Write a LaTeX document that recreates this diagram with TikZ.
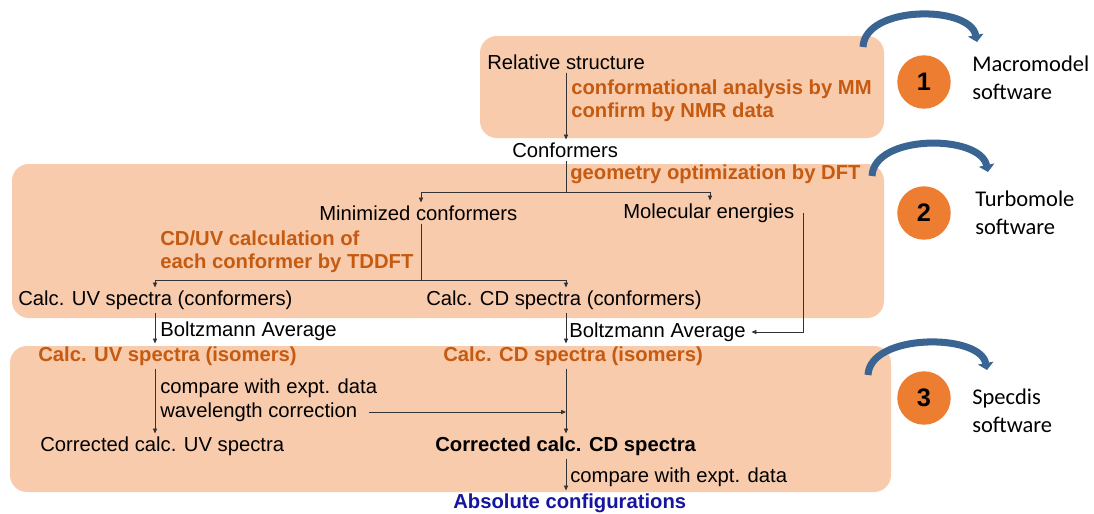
\documentclass[tikz,border=0pt]{standalone}
\usepackage{fontspec}
\setmainfont{Liberation Sans}
\newfontfamily\swfont{Carlito}
\usetikzlibrary{arrows.meta,calc}
\definecolor{boxfill}{HTML}{F8CBAD}
\definecolor{steptext}{HTML}{C55A11}
\definecolor{numfill}{HTML}{ED7D31}
\definecolor{arcblue}{HTML}{3A6593}
\definecolor{resultblue}{HTML}{1515A0}
\tikzset{
  stage/.style={fill=boxfill, draw=none, rounded corners=12pt},
  lbl/.style={anchor=west, inner xsep=0pt, inner ysep=2pt},
  method/.style={lbl, text=steptext, align=left, font=\fontsize{14.4}{16.4}\selectfont\bfseries},
  link/.style={draw=black!80, line width=0.6pt, -{Triangle[length=3.5pt,width=3pt]}},
  wire/.style={draw=black!80, line width=0.6pt},
  stepnum/.style={circle, fill=numfill, minimum size=38pt, inner sep=0pt, font=\fontsize{18}{18}\selectfont\bfseries},
  software/.style={anchor=west, align=left, inner sep=0pt, font=\swfont\fontsize{16}{20}\selectfont},
  hop/.style={draw=arcblue, line width=5pt, -{Triangle[length=5pt,width=11pt]}}
}
\begin{document}
\begin{tikzpicture}[x=0.025cm, y=-0.025cm, font=\fontsize{14.4}{17}\selectfont]
\useasboundingbox (0,0) rectangle (1094,514);
% stage boxes
\fill[stage] (480,36) rectangle (884,138);
\fill[stage] (12,164) rectangle (884,318);
\fill[stage] (10,346) rectangle (891,492);
% columns of the flow
\coordinate (uvx) at (155,0);
\coordinate (minx) at (421,0);
\coordinate (cdx) at (566,0);
\coordinate (enx) at (710,0);
\coordinate (boltzx) at (803,0);
\coordinate (dftfork) at (566,192);
\coordinate (tdfork) at (421,280);
% stage 1
\node[lbl] (rel) at (487,62) {Relative structure};
\node[method] (mm) at (571,101) {conformational analysis by MM\\confirm by NMR data};
\node[lbl] (conf) at (512,150) {Conformers};
% stage 2
\node[method] (dft) at (570,174) {geometry optimization by DFT};
\node[lbl] (mincf) at (319,213) {Minimized conformers};
\node[lbl] (molen) at (623,213) {Molecular energies};
\node[method] (tddft) at (160,252) {CD/UV calculation of\\each conformer by TDDFT};
\node[lbl] (uvconf) at (18,300) {Calc. UV spectra (conformers)};
\node[lbl] (cdconf) at (426,300) {Calc. CD spectra (conformers)};
\node[lbl] (boltzA) at (160,331) {Boltzmann Average};
\node[lbl] (boltzB) at (569,332) {Boltzmann Average};
% stage 3
\node[method] (uviso) at (38,356) {Calc. UV spectra (isomers)};
\node[method] (cdiso) at (443,356) {Calc. CD spectra (isomers)};
\node[lbl] (cmp1) at (160,388) {compare with expt. data};
\node[lbl] (wave) at (160,412) {wavelength correction};
\node[lbl] (uvcor) at (40,446) {Corrected calc. UV spectra};
\node[lbl, font=\fontsize{14.4}{17}\selectfont\bfseries] (cdcor) at (435,446) {Corrected calc. CD spectra};
\node[lbl] (cmp2) at (570,477) {compare with expt. data};
\node[lbl, text=resultblue, font=\fontsize{14.4}{17}\selectfont\bfseries] (absconf) at (453,503) {Absolute configurations};
% connectors
\draw[link] (rel.south -| cdx) -- (conf.north -| cdx);
\draw[wire] (conf.south -| cdx) -- (dftfork);
\draw[link] (dftfork) -| (mincf.north -| minx);
\draw[link] (dftfork) -| (molen.north -| enx);
\draw[wire] (mincf.south -| minx) -- (tdfork);
\draw[link] (tdfork) -| (uvconf.north -| uvx);
\draw[link] (tdfork) -| (cdconf.north -| cdx);
\draw[link] (uvconf.south -| uvx) -- (uviso.north -| uvx);
\draw[link] (cdconf.south -| cdx) -- (cdiso.north -| cdx);
\draw[link] (molen.east -| boltzx) |- ([xshift=4pt]boltzB.east);
\draw[link] (uviso.south -| uvx) -- (uvcor.north -| uvx);
\draw[link] (cdiso.south -| cdx) -- (cdcor.north -| cdx);
\draw[link] ([xshift=8pt]wave.east) -- (wave.east -| cdx);
\draw[link] (cdcor.south -| cdx) -- (absconf.north -| cdx);
% software steps
\node[stepnum] (num1) at (924,82) {1};
\node[stepnum] (num2) at (924,213) {2};
\node[stepnum] (num3) at (924,398) {3};
\node[software] (sw1) at (972,78) {Macromodel\\software};
\node[software] (sw2) at (975,213) {Turbomole\\software};
\node[software] (sw3) at (972,411) {Specdis\\software};
\draw[hop] (863,47) .. controls (865,5) and (970,5) .. (977,42);
\draw[hop] (872,176) .. controls (874,134) and (980,134) .. (988,172);
\draw[hop] (868,375) .. controls (870,333) and (980,333) .. (987,370);
\end{tikzpicture}
\end{document}
